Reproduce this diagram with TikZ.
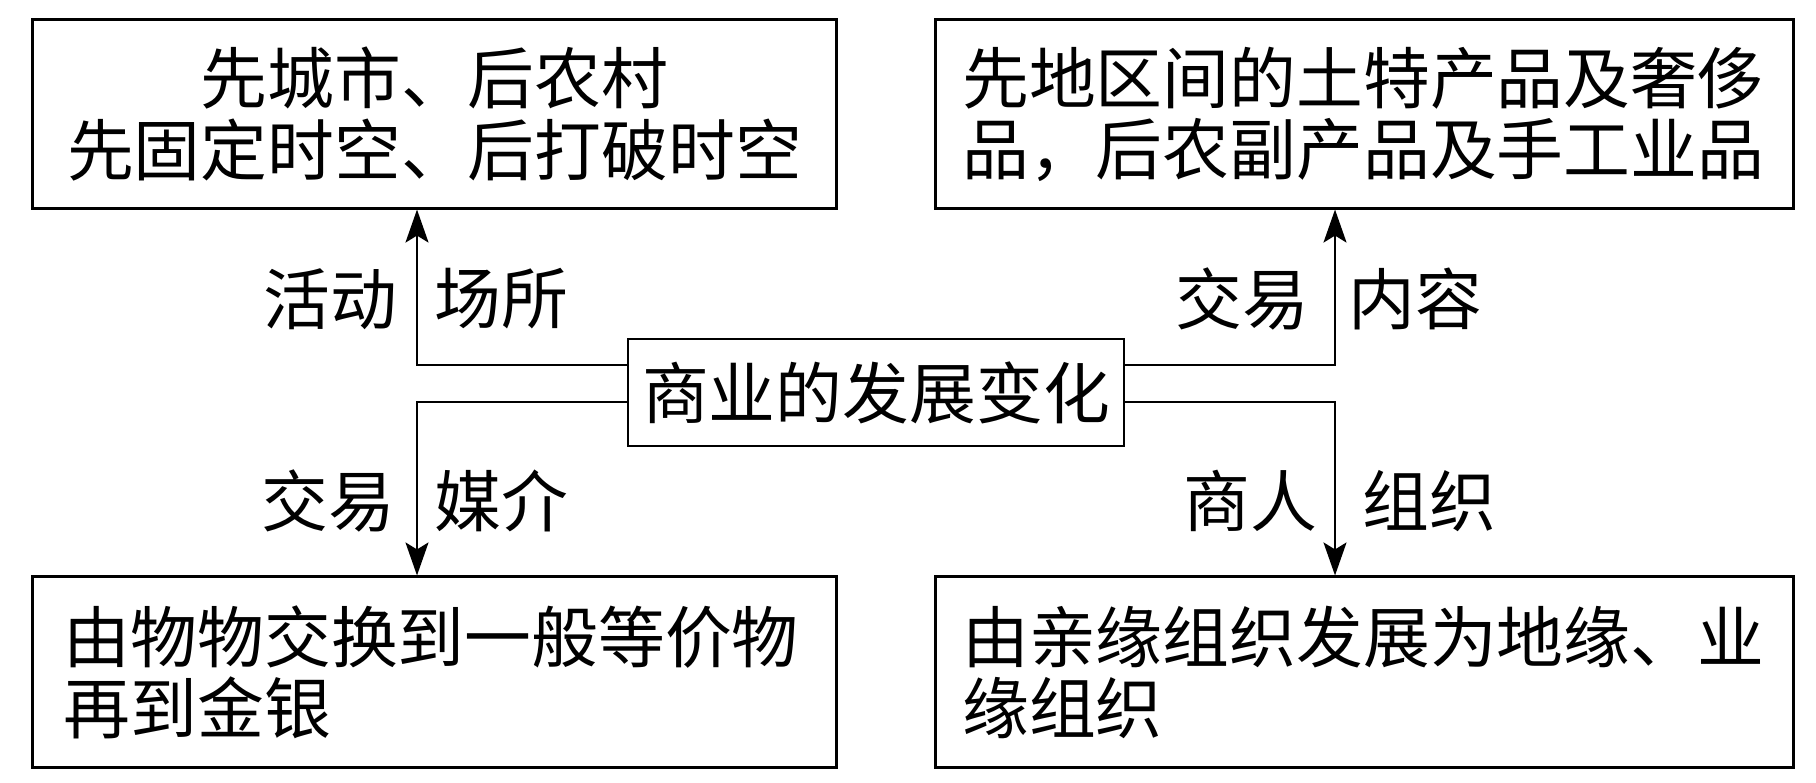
\documentclass[tikz,border=0pt]{standalone}
\usepackage{fontspec}
\setmainfont{Noto Sans CJK SC}
\usetikzlibrary{arrows.meta}
\tikzset{
  box/.style={draw, line width=0.85pt, inner sep=0pt, minimum width=8.03cm, minimum height=1.88cm,
    font=\fontsize{19pt}{20.2pt}\selectfont},
  cbox/.style={draw, line width=0.6pt, inner sep=0pt, minimum width=4.96cm, minimum height=1.07cm,
    font=\fontsize{19pt}{20.2pt}\selectfont},
  lbl/.style={inner sep=0pt, font=\fontsize{19pt}{20.2pt}\selectfont},
  conn/.style={line width=0.6pt},
  arr/.style={conn, -{Stealth[length=3.3mm, width=2.3mm, inset=0.7mm]}}
}
\begin{document}
\begin{tikzpicture}[x=0.01cm, y=-0.01cm]
\useasboundingbox (0,0) rectangle (1816,782);
% boxes
\node[box, minimum height=1.88cm, align=center] (tl) at (434.5,114) {先城市、后农村\\先固定时空、后打破时空};
\node[box, minimum width=8.57cm, minimum height=1.88cm, text width=8.04cm, align=left] (tr) at (1364.5,114) {先地区间的土特产品及奢侈\\品，后农副产品及手工业品};
\node[cbox] (c) at (876,392.5) {商业的发展变化};
\node[box, minimum height=1.90cm, text width=7.41cm, align=left] (bl) at (434.5,672) {由物物交换到一般等价物\\再到金银};
\node[box, minimum width=8.57cm, minimum height=1.90cm, text width=8.04cm, align=left] (br) at (1364.5,672) {由亲缘组织发展为地缘、业\\缘组织};
% connectors
\draw[arr] (c.west |- 0,365) -| (417,0 |- tl.south);
\draw[arr] (c.east |- 0,365) -| (1335,0 |- tr.south);
\draw[arr] (c.west |- 0,402) -| (417,0 |- bl.north);
\draw[arr] (c.east |- 0,402) -| (1335,0 |- br.north);
% labels
\node[lbl, anchor=east] (l1) at (398,299) {活动};
\node[lbl, anchor=west] (l2) at (434,299) {场所};
\node[lbl, anchor=east] (l3) at (1310,299) {交易};
\node[lbl, anchor=west] (l4) at (1348,299) {内容};
\node[lbl, anchor=east] (l5) at (396,501) {交易};
\node[lbl, anchor=west] (l6) at (434,501) {媒介};
\node[lbl, anchor=east] (l7) at (1318,501) {商人};
\node[lbl, anchor=west] (l8) at (1362,501) {组织};
\end{tikzpicture}
\end{document}
